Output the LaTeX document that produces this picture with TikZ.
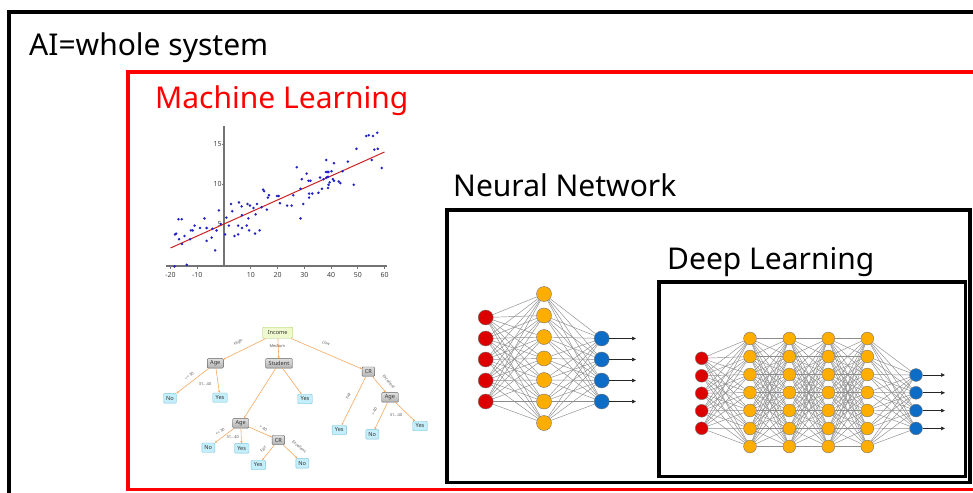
\documentclass[tikz,border=0pt]{standalone}
\usepackage{fontspec}
\setmainfont{Noto Sans}
\usetikzlibrary{arrows.meta}

\definecolor{nnred}{HTML}{DD0000}
\definecolor{nnorange}{HTML}{FFAE00}
\definecolor{nnblue}{HTML}{0D6DC6}
\definecolor{dotblue}{HTML}{2323C4}
\definecolor{fitred}{HTML}{CC2222}
\definecolor{incfill}{HTML}{EEF9CF}
\definecolor{incdraw}{HTML}{A8CC66}
\definecolor{leaffill}{HTML}{C4EEFA}
\definecolor{leafdraw}{HTML}{78C4DE}
\definecolor{edgeor}{HTML}{F6A458}

\begin{document}
\begin{tikzpicture}[x=1pt,y=-1pt,
  ttl/.style={anchor=base west, font=\fontsize{30}{35}\selectfont, inner sep=0pt},
  tbox/.style={draw, rounded corners=1pt, line width=0.4pt, inner sep=0pt,
    font=\fontsize{5.6}{6}\selectfont, minimum height=9.5pt, text=black!80},
  tinc/.style={tbox, fill=incfill, draw=incdraw, minimum width=30pt, minimum height=11pt},
  tgray/.style={tbox, top color=gray!25, bottom color=gray!60, draw=gray!75!black},
  tleaf/.style={tbox, fill=leaffill, draw=leafdraw, minimum width=14.5pt},
  tedge/.style={draw=edgeor, line width=0.55pt, -{Stealth[length=2.2pt,width=2pt]}},
  tlab/.style={font=\fontsize{4}{4.5}\selectfont, text=black!65, inner sep=0pt},
  axisln/.style={draw=black!55, line width=1.1pt},
  ticklab/.style={font=\fontsize{7}{8}\selectfont, text=black!75, inner sep=0pt},
  neu/.style={circle, draw=black!55, line width=0.4pt, inner sep=0pt},
  nsmall/.style={neu, minimum size=15pt},
  nbig/.style={neu, minimum size=12.8pt},
  link/.style={draw=black!45, line width=0.45pt},
  outarr/.style={draw=black!85, line width=0.7pt, -{Triangle[length=4pt,width=3.5pt]}}
]
\useasboundingbox (0,0) rectangle (973,492);
\fill[white] (0,0) rectangle (973,492);

% ---------- nested frames ----------
\draw[line width=3.5pt] (9,12) rectangle (1010,530);
\draw[red, line width=3.5pt] (128,72) rectangle (1005,489.5);
\draw[line width=3.5pt] (447,210) rectangle (970,482.5);
\draw[line width=3.5pt] (659,282) rectangle (965.5,476.5);

% ---------- titles ----------
\node[ttl] (aititle) at (29,55.5) {AI=whole system};
\node[ttl, text=red] (mltitle) at (155,108.5) {Machine Learning};
\node[ttl] (nntitle) at (453,196.5) {Neural Network};
\node[ttl] (dltitle) at (667,269.5) {Deep Learning};

% ---------- linear regression scatter ----------
\begin{scope}[shift={(224,264)}, x=2.675pt, y=8pt]
  \draw[axisln] (-21.5,-0.25) -- (61,-0.25);
  \draw[axisln] (0,-0.25) -- (0,17.2);
  \foreach \t in {-20,-10,10,20,30,40,50,60} {
    \draw[draw=black!55, line width=0.6pt] (\t,-0.25) -- (\t,-0.65);
    \node[ticklab] at (\t,-1.35) {\t};
  }
  \foreach \t in {5,10,15} {
    \draw[draw=black!55, line width=0.6pt] (0,\t) -- (-0.6,\t);
    \node[ticklab, anchor=east] at (-0.8,\t) {\t};
  }
  \draw[fitred, line width=1pt] (-20,2) -- (60,14);
  \foreach \px/\py in {
    -18.3/3.7, -17.9/3.8, -16.8/3.1, -17/5.6, -15.8/5.6, -15.7/2.5, -14.8/3.5,
    -13.9/-0.1, -18.5/-0.3, -12.7/3.1, -12.4/4.2, -11.7/4.2, -11/4.8, -9/4.5,
    -7.3/5.7, -6.5/4.5, -6.5/2.9, -4.6/3.3, -4.3/4.4, -3.3/1.7, -2.8/4.2,
    -1.9/6.7, -1.2/5.0, 0.4/3.7, 0.9/5.8, 1.8/4.8, 2.6/7.5, 3.1/6.6, 3.9/3.5,
    5.3/4.8, 5.3/3.7, 5.6/7.7, 6.6/7.2, 6.7/6.1, 6.7/4.5, 8.5/4.8, 8.8/7.5,
    9.7/7.3, 9.1/5.7, 9.4/4.2, 11/7.0, 11.6/3.8, 11.8/6.2, 12.3/7.5, 13.3/4.2,
    14/7.1, 14.6/9.3, 15/9.1, 16/6.8, 16.4/8.3, 16.8/8.6, 19.8/8.5, 20.5/8.5,
    20.9/7.6, 23.6/7.3, 25.3/7.3, 25.9/8.6, 27.2/12.1, 28.6/5.7, 28.6/9.4,
    29.1/10.6, 29.6/7.5, 30.9/11.3, 31.6/10.4, 32.3/10.4, 31.8/8.8, 31.8/8.3,
    33/8.8, 35.3/8.9, 35.9/10.8, 36.6/9.4, 37.2/10.6, 38.1/11.5, 38.6/11.5,
    39.1/11.5, 38.2/13, 38.3/10.8, 38.9/10.9, 38.9/9.5, 39.1/9.9, 39.5/10.2,
    40.2/11.6, 40.7/10.6, 41.1/10.4, 41.1/12.6, 42.9/10.3, 43.5/10.1,
    44.3/11.6, 46.3/12.8, 48.5/9.9, 49.5/14.4, 53.2/16, 54.1/16.1, 55.7/16,
    57.3/16.4, 55.2/13, 56.2/14.3, 57.5/14.4, 59/12} {
    \fill[dotblue] (\px,\py) circle[radius=1.4pt];
  }
\end{scope}

% ---------- decision tree ----------
\node[tinc]  (inc)  at (277.7,332.7) {Income};
\node[tgray, minimum width=16pt] (age1) at (215.3,363.3) {Age};
\node[tgray, minimum width=27pt] (stu)  at (279,363.3) {Student};
\node[tgray, minimum width=12.5pt] (cr1)  at (368.3,371.7) {CR};
\node[tgray, minimum width=16pt] (age2) at (240.7,423.3) {Age};
\node[tgray, minimum width=12.5pt] (cr2)  at (278.3,440) {CR};
\node[tgray, minimum width=17pt] (age3) at (390,397.3) {Age};
\node[tleaf, minimum width=13pt] (no1) at (170,398.3) {No};
\node[tleaf] (yes1) at (220,397.7) {Yes};
\node[tleaf] (yes2) at (305,399) {Yes};
\node[tleaf, minimum width=13pt] (no2) at (208.3,447.7) {No};
\node[tleaf] (yes3) at (241.7,448.3) {Yes};
\node[tleaf] (yes4) at (258.3,465) {Yes};
\node[tleaf, minimum width=13pt] (no3) at (302.3,463.3) {No};
\node[tleaf] (yes5) at (339.3,430) {Yes};
\node[tleaf, minimum width=13pt] (no4) at (372.3,434.3) {No};
\node[tleaf] (yes6) at (420,426) {Yes};

\draw[tedge] (inc) -- (age1);
\draw[tedge] (inc) -- (stu);
\draw[tedge] (inc) -- (cr1);
\draw[tedge] (age1) -- (no1);
\draw[tedge] (age1) -- (yes1);
\draw[tedge] (stu) -- (age2);
\draw[tedge] (stu) -- (yes2);
\draw[tedge] (age2) -- (no2);
\draw[tedge] (age2) -- (yes3);
\draw[tedge] (age2) -- (cr2);
\draw[tedge] (cr2) -- (yes4);
\draw[tedge] (cr2) -- (no3);
\draw[tedge] (cr1) -- (yes5);
\draw[tedge] (cr1) -- (age3);
\draw[tedge] (age3) -- (no4);
\draw[tedge] (age3) -- (yes6);

\node[tlab, rotate=27]  (lhigh) at (238.3,342.7) {High};
\node[tlab]             (lmed)  at (277.3,346) {Medium};
\node[tlab, rotate=-22] (llow)  at (326,343.3) {Low};
\node[tlab, rotate=36]  (l30a)  at (189.3,376) {<= 30};
\node[tlab]             (l31a)  at (205,384) {31...40};
\node[tlab, rotate=36]  (l30b)  at (220,431.7) {<= 30};
\node[tlab]             (l31b)  at (232.7,436.7) {31...40};
\node[tlab, rotate=-28] (l40a)  at (263.3,428.3) {> 40};
\node[tlab, rotate=50]  (lfaira) at (263.3,449.3) {Fair};
\node[tlab, rotate=-40] (lexca) at (299.3,446.7) {Excellent};
\node[tlab, rotate=63]  (lfairb) at (348.3,396) {Fair};
\node[tlab, rotate=-50] (lexcb) at (389,381.7) {Excellent};
\node[tlab, rotate=66]  (l40b)  at (374.3,411.7) {> 40};
\node[tlab]             (l31c)  at (396,415) {31...40};

% ---------- single hidden layer network ----------
\foreach \k/\yy in {1/317.5,2/338.5,3/359.5,4/380.5,5/401.5}
  \node[nsmall, fill=nnred] (si\k) at (485.7,\yy) {};
\foreach \k in {1,...,7}
  \node[nsmall, fill=nnorange] (sh\k) at (544,{294+21.5*(\k-1)}) {};
\foreach \k/\yy in {1/338.5,2/359.5,3/380.5,4/401.5} {
  \node[nsmall, fill=nnblue] (so\k) at (601.7,\yy) {};
  \coordinate (sot\k) at (636,\yy);
}
\foreach \a in {1,...,5} \foreach \b in {1,...,7} \draw[link] (si\a) -- (sh\b);
\foreach \a in {1,...,7} \foreach \b in {1,...,4} \draw[link] (sh\a) -- (so\b);
\foreach \b in {1,...,4} \draw[outarr] (so\b) -- (sot\b);

% ---------- deep network ----------
\foreach \k in {1,...,5}
  \node[nbig, fill=nnred] (di\k) at (701.7,{358.3+17.5*(\k-1)}) {};
\foreach \L/\xx in {1/750,2/789.3,3/828.3,4/867.3}
  \foreach \k in {1,...,7}
    \node[nbig, fill=nnorange] (dh\L-\k) at (\xx,{338.5+18*(\k-1)}) {};
\foreach \k in {1,...,4} {
  \node[nbig, fill=nnblue] (do\k) at (916,{375+17.8*(\k-1)}) {};
  \coordinate (dot\k) at (945,{375+17.8*(\k-1)});
}
\foreach \a in {1,...,5} \foreach \b in {1,...,7} \draw[link] (di\a) -- (dh1-\b);
\foreach \L in {1,2,3} {
  \pgfmathtruncatemacro\Lnext{\L+1}
  \foreach \a in {1,...,7} \foreach \b in {1,...,7} \draw[link] (dh\L-\a) -- (dh\Lnext-\b);
}
\foreach \a in {1,...,7} \foreach \b in {1,...,4} \draw[link] (dh4-\a) -- (do\b);
\foreach \b in {1,...,4} \draw[outarr] (do\b) -- (dot\b);
\end{tikzpicture}
\end{document}
